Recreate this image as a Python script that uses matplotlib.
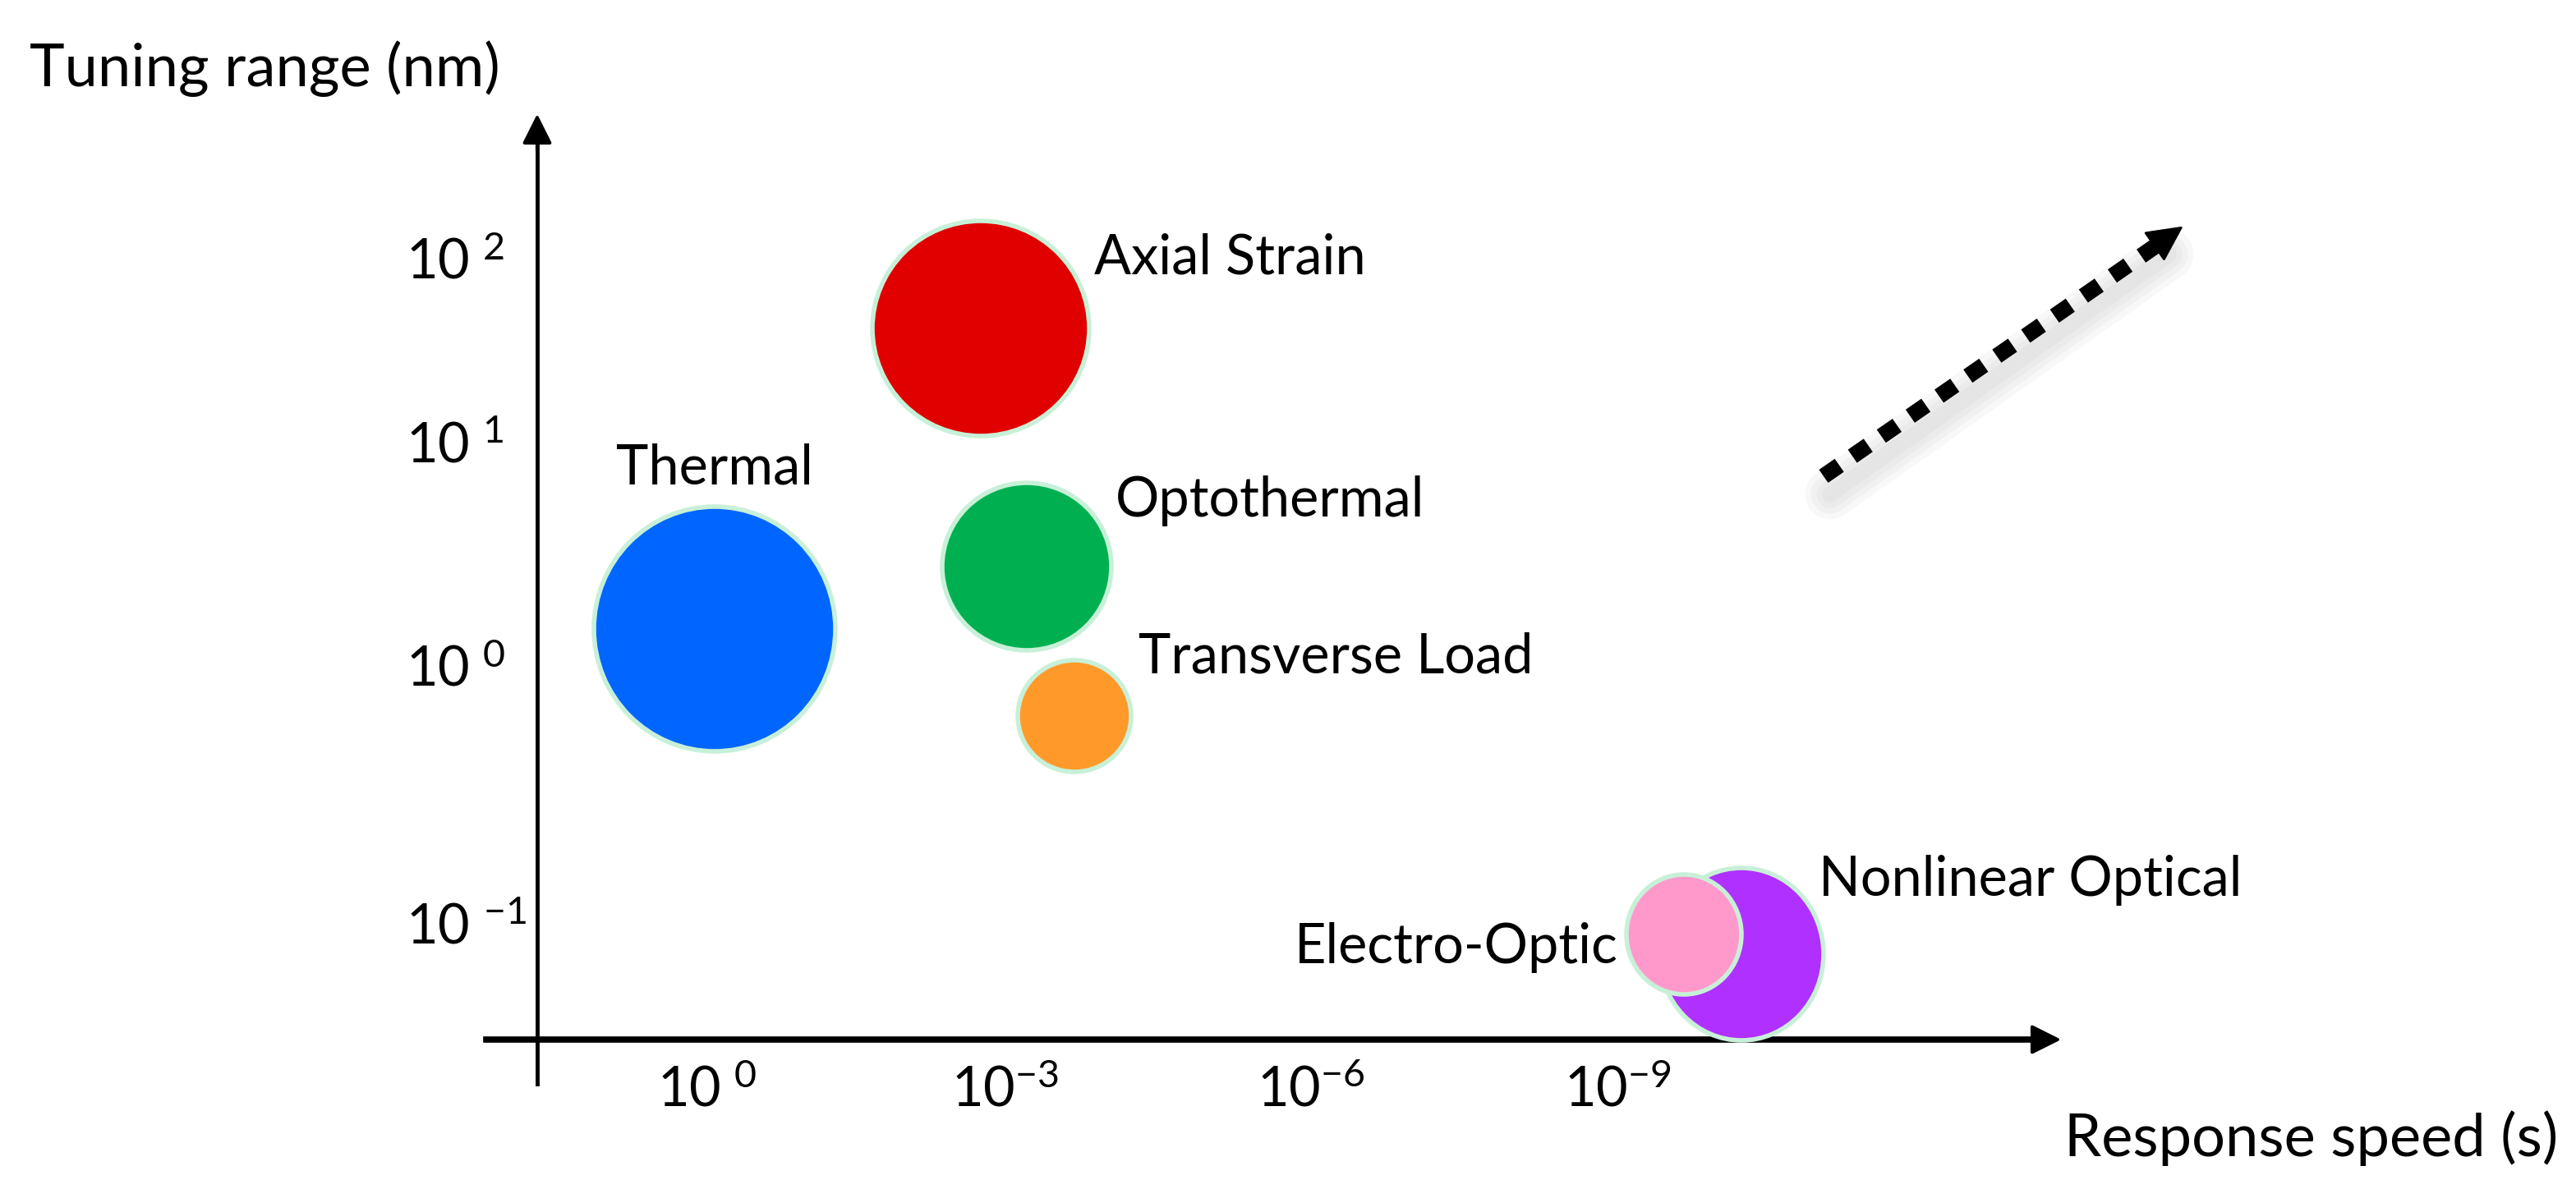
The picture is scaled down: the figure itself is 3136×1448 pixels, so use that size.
import matplotlib.pyplot as plt
from matplotlib.patches import Ellipse

plt.rcParams['font.family'] = ['Lato', 'DejaVu Sans']
plt.rcParams['mathtext.default'] = 'regular'

# Tuning methods (schematic units: 1 unit = 100 px, origin at axes crossing)
methods = ['Axial Strain', 'Thermal', 'Optothermal', 'Transverse Load',
           'Nonlinear Optical', 'Electro-Optic']
x_pos = [5.40, 2.16, 5.96, 6.54, 14.66, 13.96]
y_pos = [8.66, 5.00, 5.76, 3.94, 1.04, 1.28]
widths = [2.64, 2.94, 2.06, 1.38, 2.00, 1.40]
heights = [2.62, 2.98, 2.04, 1.36, 2.10, 1.46]
colors = ['#E00000', '#0066FF', '#00B050', '#FF9A2A', '#B030FF', '#FF99CC']

# label anchors and alignment
label_x = [6.78, 0.96, 7.04, 7.32, 15.60, 13.16]
label_y = [9.52, 6.96, 6.56, 4.66, 1.94, 1.12]
label_ha = ['left', 'left', 'left', 'left', 'left', 'right']

# Axis ticks
xtick_pos = [2.06, 5.70, 9.42, 13.16]
xtick_lab = ['10$^{\\ 0}$', '10$^{-3}$', '10$^{-6}$', '10$^{-9}$']
ytick_pos = [9.46, 7.22, 4.50, 1.36]
ytick_lab = ['10$^{\\ 2}$', '10$^{\\ 1}$', '10$^{\\ 0}$', '10$^{-1}$']

# trend arrow
trend_x = [15.66, 20.06]
trend_y = [6.86, 9.92]

fig = plt.figure(figsize=(31.36, 14.48), dpi=100)
ax = fig.add_axes([0, 0, 1, 1])
ax.set_xlim(-6.54, 24.82)
ax.set_ylim(-1.82, 12.66)
ax.axis('off')

fs = 48

# axes with arrows
ax.plot([0, 0], [-0.54, 11.0], color='black', lw=3.5)
ax.annotate('', xy=(0, 11.30), xytext=(0, 10.8),
            arrowprops=dict(arrowstyle='-|>', color='black', lw=3,
                            mutation_scale=55))
ax.plot([-0.62, 18.3], [0, 0], color='black', lw=5.5)
ax.annotate('', xy=(18.58, 0), xytext=(18.0, 0),
            arrowprops=dict(arrowstyle='-|>', color='black', lw=3,
                            mutation_scale=55))

for xp, lab in zip(xtick_pos, xtick_lab):
    ax.text(xp, -0.62, lab, fontsize=fs, ha='center', va='center')
for yp, lab in zip(ytick_pos, ytick_lab):
    ax.text(-1.6, yp, lab.replace('10$^{-', '10 $^{-'), fontsize=fs,
            ha='left', va='center')

ax.text(-6.18, 11.82, 'Tuning range (nm)', fontsize=52, ha='left', va='center')
ax.text(24.60, -1.20, 'Response speed (s)', fontsize=52, ha='right', va='center')

for i in range(len(methods)):
    e = Ellipse((x_pos[i], y_pos[i]), widths[i], heights[i],
                facecolor=colors[i], edgecolor='#C8F0D8', lw=4, zorder=3 + i)
    ax.add_patch(e)
    ax.text(label_x[i], label_y[i], methods[i], fontsize=fs,
            ha=label_ha[i], va='center')

# soft blurred shadow under the trend arrow
for lw_s in [44, 34, 24, 14]:
    ax.plot([trend_x[0] + 0.08, trend_x[1] - 0.2],
            [trend_y[0] - 0.22, trend_y[1] - 0.36],
            color='gray', lw=lw_s, alpha=0.05, solid_capstyle='round')

# dotted trend arrow
ax.plot([trend_x[0], trend_x[1] - 0.35], [trend_y[0], trend_y[1] - 0.25],
        color='black', lw=14, linestyle=(0, (1.2, 1.0)),
        dash_capstyle='butt')
ax.annotate('', xy=(trend_x[1], trend_y[1]),
            xytext=(trend_x[1] - 0.5, trend_y[1] - 0.35),
            arrowprops=dict(arrowstyle='-|>', color='black', lw=2,
                            mutation_scale=70))

fig.savefig('out.png', dpi=100)
